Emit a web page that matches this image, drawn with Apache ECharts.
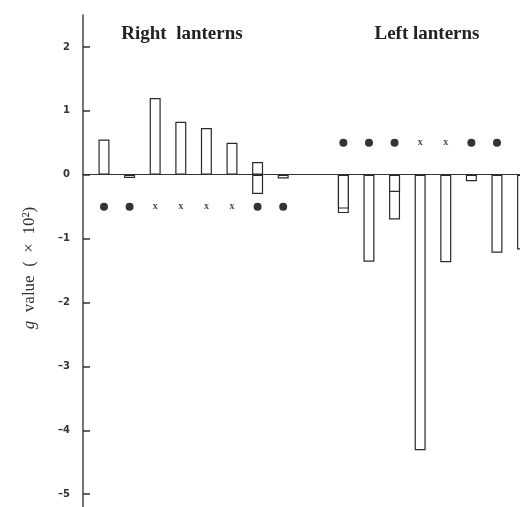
<!DOCTYPE html>
<html>
<head>
<meta charset="utf-8">
<script src="https://cdn.jsdelivr.net/npm/echarts@6/dist/echarts.min.js"></script>
<style>
  html, body { margin: 0; padding: 0; background: #fff; }
  #chart { width: 520px; height: 507px; }
</style>
</head>
<body>
<div id="chart"></div>
<script>
// lantern positions along x (in lantern spacing units)
var rightPos = [1, 2, 3, 4, 5, 6, 7, 8];
var leftPos = [10.35, 11.35, 12.35, 13.35, 14.35, 15.35, 16.35, 17.35];

// g values: outer box and inner box drawn over it (split boxes)
var rightOuter = [0.55, -0.05, 1.2, 0.83, 0.73, 0.5, 0.2, -0.06];
var rightInner = [null, null, null, null, null, null, -0.3, null];
var leftOuter = [-0.6, -1.36, -0.7, -4.31, -1.37, -0.1, -1.22, -1.17];
var leftInner = [-0.53, null, -0.27, null, null, null, null, null];

// marker row under/over each lantern group
var rightMarks = ['dot', 'dot', 'x', 'x', 'x', 'x', 'dot', 'dot'];
var leftMarks = ['dot', 'dot', 'dot', 'x', 'x', 'dot', 'dot', 'dot'];
var rightMarkY = -0.5;
var leftMarkY = 0.5;

var yTicks = [-5, -4, -3, -2, -1, 0, 1, 2];

var myChart = echarts.init(document.getElementById('chart'));

var positions = rightPos.concat(leftPos);
var outerVals = rightOuter.concat(leftOuter);
var innerVals = rightInner.concat(leftInner);
var outerData = [], innerData = [];
for (var i = 0; i < positions.length; i++) {
  outerData.push([positions[i], outerVals[i]]);
  if (innerVals[i] !== null) innerData.push([positions[i], innerVals[i]]);
}

var dots = [], crosses = [];
rightMarks.forEach(function (m, i) {
  (m === 'dot' ? dots : crosses).push([rightPos[i], rightMarkY]);
});
leftMarks.forEach(function (m, i) {
  (m === 'dot' ? dots : crosses).push([leftPos[i], leftMarkY]);
});

var barStyle = {
  color: '#fff',
  borderColor: '#2a2a2a',
  borderWidth: 1.2
};
var titleStyle = { fontFamily: 'Liberation Serif', fontSize: 19, fontWeight: 'bold', color: '#222' };

const option = {
  animation: false,
  backgroundColor: '#fff',
  title: [
    { text: 'Right  lanterns', left: 177, top: 20, textAlign: 'center', textStyle: titleStyle },
    { text: 'Left lanterns', left: 422, top: 20, textAlign: 'center', textStyle: titleStyle }
  ],
  grid: {
    left: 83,
    right: 0,
    top: 15,
    bottom: 0
  },
  xAxis: {
    type: 'value',
    min: 0.18,
    max: 17.25,
    axisLine: { show: true, onZero: true, lineStyle: { color: '#333', width: 1.2 } },
    axisTick: { show: false },
    axisLabel: { show: false },
    splitLine: { show: false }
  },
  yAxis: {
    type: 'value',
    min: -5.2,
    max: 2.5,
    name: '{i|g}  value  (  ×  10²)',
    nameLocation: 'middle',
    nameGap: 45,
    nameTextStyle: {
      fontFamily: 'Liberation Serif',
      fontSize: 17,
      color: '#333',
      padding: [0, 14, 0, 0],
      rich: { i: { fontStyle: 'italic', fontFamily: 'Liberation Serif', fontSize: 17, color: '#333' } }
    },
    axisLine: { show: true, lineStyle: { color: '#444', width: 1.5 } },
    axisTick: { show: true, inside: true, length: 7, customValues: yTicks, lineStyle: { color: '#333', width: 1.5 } },
    axisLabel: {
      customValues: yTicks,
      margin: 13,
      fontFamily: 'DejaVu Sans',
      fontWeight: 'bold',
      fontSize: 10,
      color: '#333',
      formatter: function (v) { return v < 0 ? '\u2013' + (-v) : String(v); }
    },
    splitLine: { show: false }
  },
  series: [
    {
      name: 'outer',
      type: 'bar',
      barWidth: 11,
      barGap: '-100%',
      data: outerData,
      itemStyle: barStyle
    },
    {
      name: 'inner',
      type: 'bar',
      barWidth: 11,
      barGap: '-100%',
      data: innerData,
      itemStyle: barStyle
    },
    {
      name: 'dots',
      type: 'scatter',
      symbol: 'circle',
      symbolSize: 8,
      data: dots,
      itemStyle: { color: '#000' }
    },
    {
      name: 'crosses',
      type: 'scatter',
      symbolSize: 0,
      data: crosses,
      label: {
        show: true,
        position: 'inside',
        formatter: 'x',
        fontFamily: 'Liberation Serif',
        fontWeight: 'bold',
        fontSize: 10,
        color: '#222'
      }
    }
  ]
};
myChart.setOption(option);
</script>
</body>
</html>
